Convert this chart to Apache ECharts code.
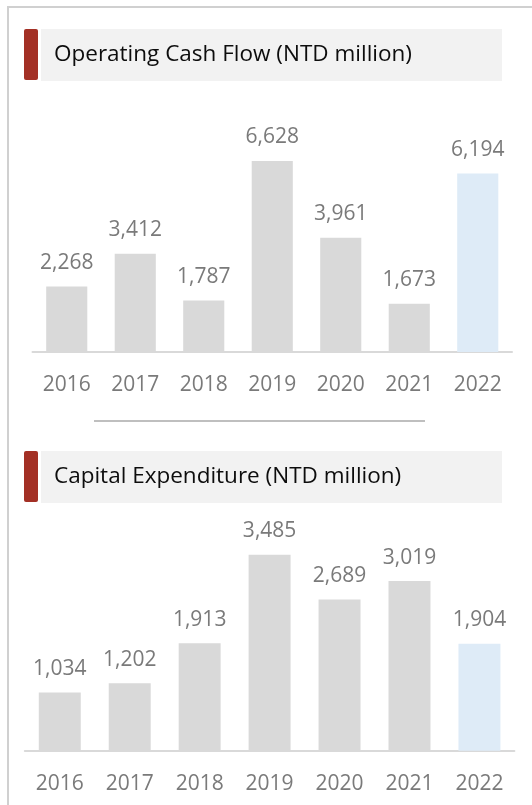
<!DOCTYPE html>
<html>
<head>
<meta charset="utf-8">
<script src="https://cdn.jsdelivr.net/npm/echarts@6/dist/echarts.min.js"></script>
<style>
  html, body { margin: 0; padding: 0; background: #ffffff; }
  #chart { width: 532px; height: 805px; }
</style>
</head>
<body>
<div id="chart"></div>
<script>
// data
const years = ["2016", "2017", "2018", "2019", "2020", "2021", "2022"];
const cashFlow = [2268, 3412, 1787, 6628, 3961, 1673, 6194];
const capex = [1034, 1202, 1913, 3485, 2689, 3019, 1904];
const titleTop = "Operating Cash Flow (NTD million)";
const titleBottom = "Capital Expenditure (NTD million)";

const FONT = "Open Sans";
const GRAY_BAR = "#d9d9d9";
const BLUE_BAR = "#deebf7";
const LABEL_GRAY = "#7a7a7a";

let myChart = echarts.init(document.getElementById("chart"));

// last year gets the light blue colour
function barColor(p) {
  return p.dataIndex === years.length - 1 ? BLUE_BAR : GRAY_BAR;
}

function xAxisFor(gridIndex) {
  return {
    type: "category",
    gridIndex: gridIndex,
    data: years,
    axisTick: { show: false },
    axisLine: { lineStyle: { color: "#d9d9d9", width: 2 } },
    axisLabel: { color: LABEL_GRAY, fontFamily: FONT, fontSize: 21, margin: 22.5 },
  };
}

function yAxisFor(gridIndex, max) {
  return {
    type: "value",
    gridIndex: gridIndex,
    min: 0,
    max: max,
    show: false,
    splitLine: { show: false },
  };
}

function barSeries(idx, values) {
  return {
    type: "bar",
    xAxisIndex: idx,
    yAxisIndex: idx,
    data: values,
    barWidth: "60%",
    itemStyle: { color: barColor },
    label: {
      show: true,
      position: "top",
      distance: 13,
      color: LABEL_GRAY,
      fontFamily: FONT,
      fontSize: 21,
      formatter: (p) => p.value.toLocaleString("en-US"),
    },
  };
}

// title strip: red marker + light gray band + text
function titleBlock(y, text) {
  return [
    { type: "rect", shape: { x: 24, y: y, width: 14, height: 51, r: 2 }, style: { fill: "#a33025" } },
    { type: "rect", shape: { x: 41, y: y, width: 461, height: 52 }, style: { fill: "#f2f2f2" } },
    {
      type: "text",
      x: 54,
      y: y + 26,
      style: { text: text, fill: "#0d0d0d", font: "22.5px '" + FONT + "'", textVerticalAlign: "middle" },
    },
  ];
}

let options = {
  animation: false,
  grid: [
    { left: 32.5, right: 20, top: 121.4, bottom: 453 },
    { left: 24.8, right: 17.6, top: 525.9, bottom: 54.3 },
  ],
  xAxis: [xAxisFor(0), xAxisFor(1)],
  yAxis: [yAxisFor(0, 8000), yAxisFor(1, 4000)],
  series: [barSeries(0, cashFlow), barSeries(1, capex)],
  graphic: [
    // outer frame (left and top edges visible)
    { type: "rect", shape: { x: 8, y: 7, width: 560, height: 820 }, style: { fill: null, stroke: "#d0d0d0", lineWidth: 2 } },
    // separator between the two panels
    { type: "line", shape: { x1: 94, y1: 421, x2: 425, y2: 421 }, style: { stroke: "#bfbfbf", lineWidth: 2 } },
  ]
    .concat(titleBlock(29, titleTop))
    .concat(titleBlock(451, titleBottom)),
};

myChart.setOption(options);
</script>
</body>
</html>
